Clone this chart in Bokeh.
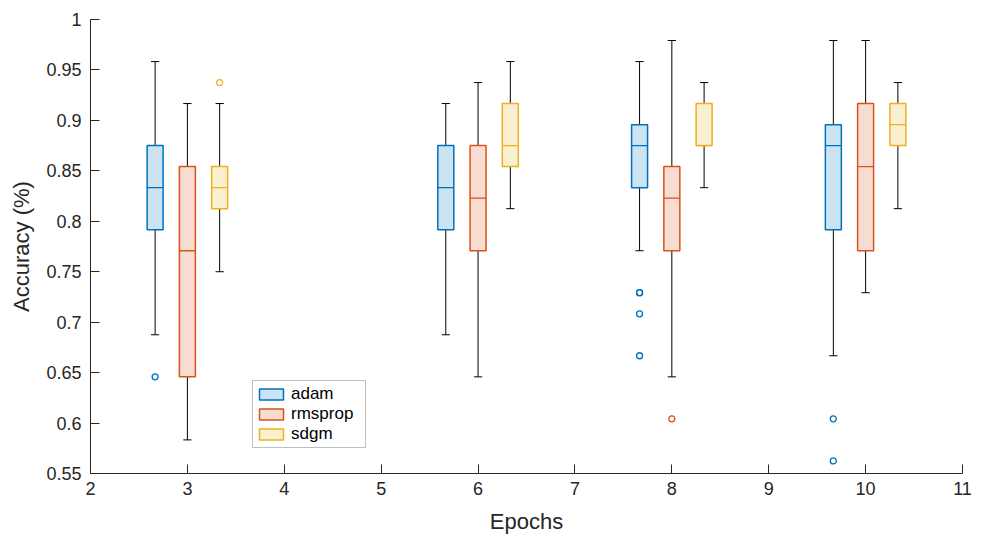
from bokeh.plotting import figure
from bokeh.models import FixedTicker, CustomJSTickFormatter, Range1d
from bokeh.embed import file_html
from bokeh.resources import INLINE

# ---- data (accuracy as fraction) ----
epochs = [3, 6, 8, 10]
series_names = ["adam", "rmsprop", "sdgm"]

adam_lower = [0.6875, 0.6875, 0.7708, 0.6667]
adam_q1 = [0.7917, 0.7917, 0.8333, 0.7917]
adam_median = [0.8333, 0.8333, 0.875, 0.875]
adam_q3 = [0.875, 0.875, 0.8958, 0.8958]
adam_upper = [0.9583, 0.9167, 0.9583, 0.9792]
adam_outliers = [[0.6458], [], [0.7292, 0.7292, 0.7083, 0.6667], [0.6042, 0.5625]]

rmsprop_lower = [0.5833, 0.6458, 0.6458, 0.7292]
rmsprop_q1 = [0.6458, 0.7708, 0.7708, 0.7708]
rmsprop_median = [0.7708, 0.8229, 0.8229, 0.8542]
rmsprop_q3 = [0.8542, 0.875, 0.8542, 0.9167]
rmsprop_upper = [0.9167, 0.9375, 0.9792, 0.9792]
rmsprop_outliers = [[], [], [0.6042], []]

sdgm_lower = [0.75, 0.8125, 0.8333, 0.8125]
sdgm_q1 = [0.8125, 0.8542, 0.875, 0.875]
sdgm_median = [0.8333, 0.875, 0.875, 0.8958]
sdgm_q3 = [0.8542, 0.9167, 0.9167, 0.9167]
sdgm_upper = [0.9167, 0.9583, 0.9375, 0.9375]
sdgm_outliers = [[0.9375], [], [], []]

x_ticks = [2, 3, 4, 5, 6, 7, 8, 9, 10, 11]
y_ticks = [0.55, 0.6, 0.65, 0.7, 0.75, 0.8, 0.85, 0.9, 0.95, 1.0]

# ---- styles ----
edge_colors = ["#0072BD", "#D95319", "#EDB120"]
fill_colors = ["#cce3f2", "#f7dcd2", "#fbefd2"]
offsets = [-0.333, 0.0, 0.333]
box_w = 0.165
cap_w = 0.085
FONT = "Liberation Sans"

p = figure(width=974, height=536, output_backend="svg", toolbar_location=None,
           x_range=Range1d(2, 11), y_range=Range1d(0.55, 1.0),
           min_border_left=90, min_border_right=12, min_border_top=19,
           min_border_bottom=59)
p.outline_line_color = None
p.xgrid.visible = False
p.ygrid.visible = False
p.background_fill_color = "white"

stats = [
    (adam_lower, adam_q1, adam_median, adam_q3, adam_upper, adam_outliers),
    (rmsprop_lower, rmsprop_q1, rmsprop_median, rmsprop_q3, rmsprop_upper, rmsprop_outliers),
    (sdgm_lower, sdgm_q1, sdgm_median, sdgm_q3, sdgm_upper, sdgm_outliers),
]

for i, name in enumerate(series_names):
    lo, q1, med, q3, up, outl = stats[i]
    xs = [e + offsets[i] for e in epochs]
    # whiskers
    p.segment(x0=xs, y0=q3, x1=xs, y1=up, line_color="black", line_width=1)
    p.segment(x0=xs, y0=q1, x1=xs, y1=lo, line_color="black", line_width=1)
    # caps
    p.segment(x0=[x - cap_w / 2 for x in xs], y0=up, x1=[x + cap_w / 2 for x in xs], y1=up,
              line_color="black", line_width=1)
    p.segment(x0=[x - cap_w / 2 for x in xs], y0=lo, x1=[x + cap_w / 2 for x in xs], y1=lo,
              line_color="black", line_width=1)
    # boxes
    p.quad(left=[x - box_w / 2 for x in xs], right=[x + box_w / 2 for x in xs],
           bottom=q1, top=q3, fill_color=fill_colors[i], line_color=edge_colors[i],
           line_width=1.5, legend_label=name)
    # medians
    p.segment(x0=[x - box_w / 2 for x in xs], y0=med, x1=[x + box_w / 2 for x in xs], y1=med,
              line_color=edge_colors[i], line_width=1.3)
    # outliers
    ox, oy = [], []
    for x, vals in zip(xs, outl):
        for v in vals:
            ox.append(x)
            oy.append(v)
    if ox:
        p.scatter(x=ox, y=oy, marker="circle", size=6, fill_color=None,
                  line_color=edge_colors[i], line_width=1.3)

# ---- axes ----
for ax in (p.xaxis[0], p.yaxis[0]):
    ax.axis_line_color = "#262626"
    ax.axis_line_width = 1
    ax.major_tick_line_color = "#262626"
    ax.major_tick_in = 9
    ax.major_tick_out = 0
    ax.minor_tick_line_color = None
    ax.major_label_text_font = FONT
    ax.major_label_text_font_size = "18px"
    ax.major_label_text_color = "#262626"
    ax.axis_label_text_font = FONT
    ax.axis_label_text_font_size = "22px"
    ax.axis_label_text_font_style = "normal"
    ax.axis_label_text_color = "#262626"

p.xaxis.ticker = FixedTicker(ticks=x_ticks)
p.yaxis.ticker = FixedTicker(ticks=y_ticks)
p.yaxis.formatter = CustomJSTickFormatter(code="return String(Math.round(tick*100)/100);")
p.xaxis.axis_label = "Epochs"
p.yaxis.axis_label = "Accuracy (%)"
p.xaxis.major_label_standoff = 8
p.yaxis.major_label_standoff = 9
p.xaxis.axis_label_standoff = 11
p.yaxis.axis_label_standoff = 9

# ---- legend ----
lg = p.legend[0]
lg.location = (162, 25)
lg.margin = 0
lg.padding = 3
lg.spacing = 0
lg.glyph_width = 30
lg.glyph_height = 14
lg.label_height = 17
lg.label_width = 71
lg.label_standoff = 5
lg.label_text_font = FONT
lg.label_text_font_size = "17px"
lg.label_text_color = "black"
lg.border_line_color = "#7f7f7f"
lg.border_line_width = 1
lg.background_fill_color = "white"
lg.background_fill_alpha = 1

open("out.html", "w").write(file_html(p, INLINE))
